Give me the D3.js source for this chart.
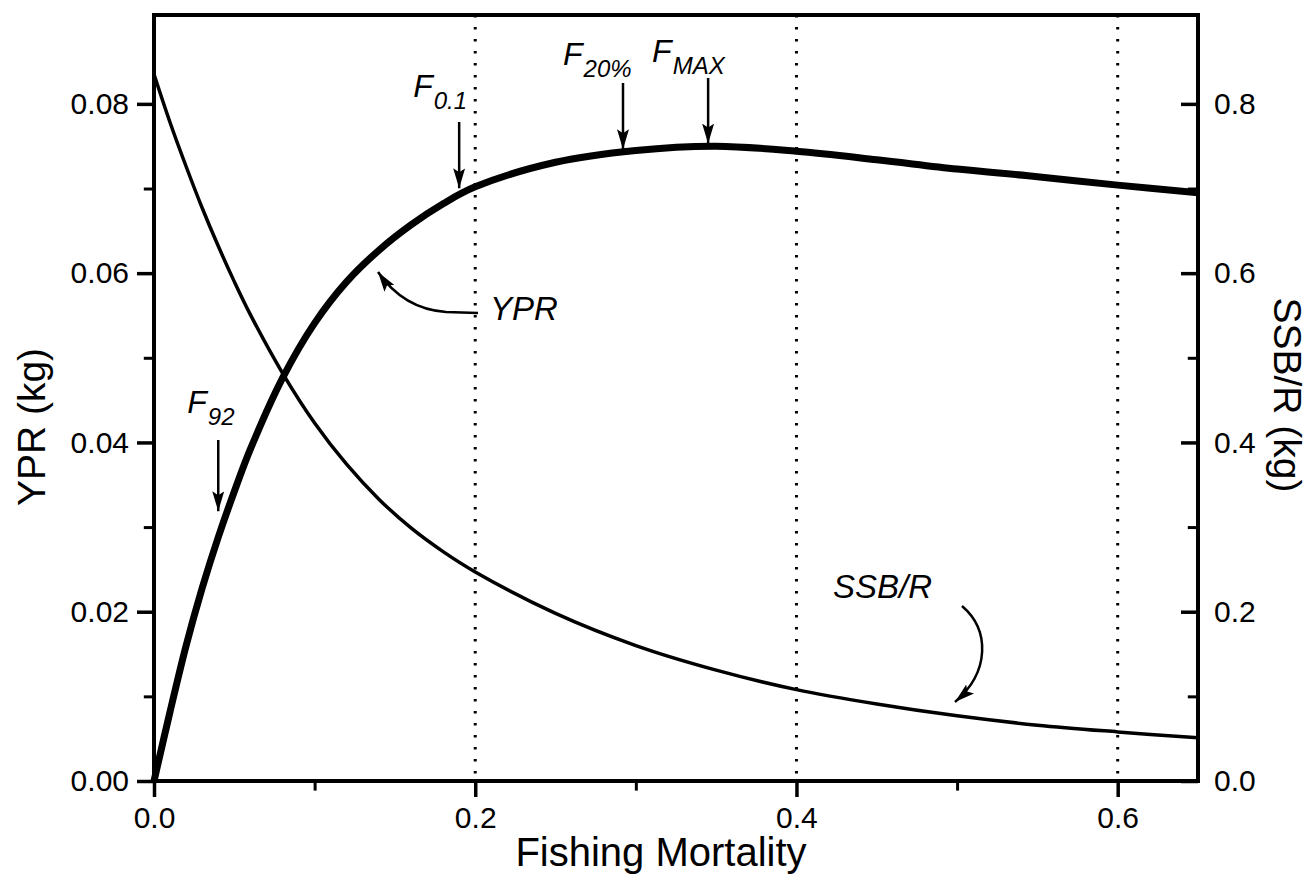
<!DOCTYPE html>
<html>
<head>
<meta charset="utf-8">
<script src="https://cdn.jsdelivr.net/npm/d3@7"></script>
<style>
  body { margin: 0; background: #fff; }
  svg { display: block; font-family: "Liberation Sans", Arial, sans-serif; }
</style>
</head>
<body>
<svg></svg>
<script>
// fishing mortality grid and the two curves
let fValues = [0, 0.01, 0.02, 0.03, 0.04, 0.05, 0.06, 0.08, 0.10, 0.12, 0.14, 0.16, 0.18, 0.20,
               0.25, 0.30, 0.35, 0.40, 0.45, 0.50, 0.55, 0.60, 0.65]
let yprValues = [0, 0.0082, 0.0160, 0.0228, 0.0288, 0.0342, 0.0392, 0.0476, 0.0541, 0.0590, 0.0627,
                 0.0657, 0.0682, 0.0702, 0.0731, 0.0745, 0.0750, 0.0744, 0.0734, 0.0723, 0.0714, 0.0704, 0.0695]
let ssbrValues = [0.835, 0.778, 0.726, 0.677, 0.632, 0.590, 0.551, 0.482, 0.423, 0.374, 0.333,
                  0.299, 0.271, 0.247, 0.198, 0.160, 0.131, 0.108, 0.091, 0.077, 0.066, 0.058, 0.051]

let xTicks = [0, 0.2, 0.4, 0.6]
let xMinor = [0.1, 0.3, 0.5]
let yLeftTicks = [0, 0.02, 0.04, 0.06, 0.08]
let yLeftMinor = [0.01, 0.03, 0.05, 0.07]
let yRightTicks = [0, 0.2, 0.4, 0.6, 0.8]
let yRightMinor = [0.1, 0.3, 0.5, 0.7]
let refLines = [0.2, 0.4, 0.6]

// reference mortality points marked on the YPR curve
let markers = [
  { sub: '92', f: 0.040 },
  { sub: '0.1', f: 0.190 },
  { sub: '20%', f: 0.292 },
  { sub: 'MAX', f: 0.345 }
]

let width = 1314
let height = 878
let padLeft = 154
let padRight = 1198
let padTop = 15
let padBottom = 781

let svg = d3.select('svg').attr('width', width).attr('height', height)

let xScale = d3.scaleLinear().domain([0, 0.65]).range([padLeft, padRight])
let yLeft = d3.scaleLinear().domain([0, 0.0905]).range([padBottom, padTop])
let yRight = d3.scaleLinear().domain([0, 0.905]).range([padBottom, padTop])

let defs = svg.append('defs')
defs.append('marker')
  .attr('id', 'head')
  .attr('viewBox', '0 0 20 12')
  .attr('refX', 20).attr('refY', 6)
  .attr('markerWidth', 20).attr('markerHeight', 12)
  .attr('markerUnits', 'userSpaceOnUse')
  .attr('orient', 'auto')
  .append('path').attr('d', 'M0,0 L20,6 L0,12 L4,6 Z').attr('fill', '#000')

// dotted reference lines
svg.selectAll('.ref')
  .data(refLines)
  .enter()
  .append('line')
  .attr('x1', d => xScale(d)).attr('x2', d => xScale(d))
  .attr('y1', padTop).attr('y2', padBottom)
  .attr('stroke', '#000')
  .attr('stroke-width', 3)
  .attr('stroke-dasharray', '2.5 9.5')

// axes
let drawAxis = (axis, tr, size, fmt, vals, minor) => {
  let g = svg.append('g').attr('transform', tr)
  g.call(axis.tickValues(vals).tickSize(size).tickFormat(fmt))
  g.select('.domain').remove()
  g.selectAll('line').attr('stroke-width', 3.5)
  g.selectAll('text').attr('font-size', 30).attr('fill', '#000')
  let m = svg.append('g').attr('transform', tr)
  m.call(axis.tickValues(minor).tickSize(size * 0.6).tickFormat(''))
  m.select('.domain').remove()
  m.selectAll('line').attr('stroke-width', 3)
  return g
}

let gx = drawAxis(d3.axisBottom(xScale), 'translate(0,' + padBottom + ')', 16, d3.format('.1f'), xTicks, xMinor)
gx.selectAll('text').attr('dy', '1.05em').attr('y', 15)

let gl = drawAxis(d3.axisLeft(yLeft), 'translate(' + padLeft + ',0)', 17, d3.format('.2f'), yLeftTicks, yLeftMinor)
gl.selectAll('text').attr('x', -25)

let gr = drawAxis(d3.axisLeft(yRight), 'translate(' + padRight + ',0)', 17, d3.format('.1f'), yRightTicks, yRightMinor)
gr.selectAll('text').attr('x', 16).attr('text-anchor', 'start')

// frame
svg.append('rect')
  .attr('x', padLeft).attr('y', padTop)
  .attr('width', padRight - padLeft).attr('height', padBottom - padTop)
  .attr('fill', 'none').attr('stroke', '#000').attr('stroke-width', 4)

// curves
let lineYpr = d3.line()
  .x((d, i) => xScale(fValues[i]))
  .y(d => yLeft(d))
  .curve(d3.curveCatmullRom.alpha(0.5))
let lineSsb = d3.line()
  .x((d, i) => xScale(fValues[i]))
  .y(d => yRight(d))
  .curve(d3.curveCatmullRom.alpha(0.5))

svg.append('path').attr('d', lineSsb(ssbrValues))
  .attr('fill', 'none').attr('stroke', '#000').attr('stroke-width', 3.5)
svg.append('path').attr('d', lineYpr(yprValues))
  .attr('fill', 'none').attr('stroke', '#000').attr('stroke-width', 7)

// axis titles
svg.append('text')
  .attr('x', 661).attr('y', 866)
  .attr('text-anchor', 'middle').attr('font-size', 40)
  .text('Fishing Mortality')
svg.append('text')
  .attr('transform', 'translate(45,427) rotate(-90)')
  .attr('text-anchor', 'middle').attr('font-size', 39)
  .text('YPR (kg)')
svg.append('text')
  .attr('transform', 'translate(1274,395) rotate(90)')
  .attr('text-anchor', 'middle').attr('font-size', 39)
  .text('SSB/R (kg)')

// F labels with arrows
let yprAt = f => {
  let i = d3.bisectLeft(fValues, f)
  if (i <= 0) return yprValues[0]
  let t = (f - fValues[i - 1]) / (fValues[i] - fValues[i - 1])
  return yprValues[i - 1] + t * (yprValues[i] - yprValues[i - 1])
}
let labelPos = {
  '92': { dx: -31, ty: 413, a0: 440, gap: 26 },
  '0.1': { dx: -46, ty: 97, a0: 122, gap: 7 },
  '20%': { dx: -60, ty: 65, a0: 83, gap: 3 },
  'MAX': { dx: -56, ty: 62, a0: 78, gap: 3 }
}
markers.forEach(m => {
  let p = labelPos[m.sub]
  let x = xScale(m.f)
  let t = svg.append('text')
    .attr('x', x + p.dx).attr('y', p.ty)
    .attr('font-size', 32).attr('font-style', 'italic')
  t.append('tspan').text('F')
  t.append('tspan').attr('font-size', 24).attr('dy', 12).attr('dx', 1).text(m.sub)
  svg.append('line')
    .attr('x1', x).attr('x2', x)
    .attr('y1', p.a0).attr('y2', yLeft(yprAt(m.f)) - p.gap)
    .attr('stroke', '#000').attr('stroke-width', 2.5)
    .attr('marker-end', 'url(#head)')
})

// curve labels
svg.append('text')
  .attr('x', 490).attr('y', 320)
  .attr('font-size', 33).attr('font-style', 'italic')
  .text('YPR')
svg.append('path')
  .attr('d', 'M478,313 L446,312 C418,310 396,298 378,272')
  .attr('fill', 'none').attr('stroke', '#000').attr('stroke-width', 2.5)
  .attr('marker-end', 'url(#head)')

svg.append('text')
  .attr('x', 833).attr('y', 598)
  .attr('font-size', 33).attr('font-style', 'italic')
  .text('SSB/R')
svg.append('path')
  .attr('d', 'M962,606 C990,630 990,672 955,702')
  .attr('fill', 'none').attr('stroke', '#000').attr('stroke-width', 2.5)
  .attr('marker-end', 'url(#head)')
</script>
</body>
</html>
